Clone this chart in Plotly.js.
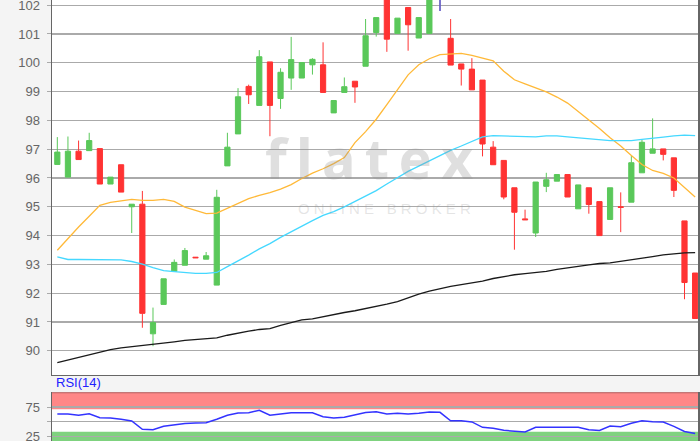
<!DOCTYPE html>
<html>
<head>
<meta charset="utf-8">
<script src="https://cdn.plot.ly/plotly-3.0.1.min.js"></script>
<style>html,body{margin:0;padding:0;background:#f4f4f4;}#chart{width:700px;height:441px;}</style>
</head>
<body>
<div id="chart"></div>
<script>
// Candle index (trading days)
const dayIndex = [0,1,2,3,4,5,6,7,8,9,10,11,12,13,14,15,16,17,18,19,20,21,22,23,24,25,26,27,28,29,30,31,32,33,34,35,36,37,38,39,40,41,42,43,44,45,46,47,48,49,50,51,52,53,54,55,56,57,58,59,60];

const openVals  = [96.47,96.03,96.93,96.95,97.02,95.79,96.46,95.00,95.09,90.59,91.61,92.76,92.97,93.25,93.18,92.28,96.42,97.53,99.18,98.52,100.03,98.76,99.47,99.47,99.93,99.93,98.26,98.97,99.36,99.88,101.05,102.60,101.02,101.92,100.86,101.02,102.60,100.85,99.96,99.78,99.40,97.07,96.61,95.66,94.58,94.09,95.71,95.89,96.12,94.93,95.66,95.18,94.56,95.00,95.16,96.18,96.86,97.01,96.70,94.51,92.70];
const highVals  = [97.42,97.44,97.30,97.57,97.02,96.03,96.46,95.09,95.55,91.50,92.50,93.17,93.57,93.25,93.43,95.59,97.57,99.12,99.24,100.44,100.03,99.81,100.90,100.01,100.16,100.71,98.69,99.49,99.36,101.52,101.57,102.90,101.55,101.92,101.57,102.60,103.00,101.52,99.96,100.16,99.40,97.28,96.61,95.66,94.90,95.86,96.18,96.12,96.12,95.76,95.66,95.18,95.66,95.50,96.78,97.32,98.07,97.01,96.70,94.51,92.70];
const lowVals   = [96.47,96.03,96.64,96.95,95.79,95.79,95.51,94.09,90.80,90.16,91.61,92.76,92.97,93.23,93.18,92.28,96.42,97.53,98.57,98.52,97.45,98.40,99.06,99.47,99.59,98.97,98.26,98.97,98.61,99.88,100.91,100.38,101.02,100.42,100.86,101.02,101.80,99.92,99.21,99.06,96.75,96.46,95.26,93.51,94.55,93.95,95.51,95.89,95.34,94.93,94.76,94.00,94.56,94.12,95.16,96.18,96.86,96.61,95.34,91.79,91.12];
const closeVals = [96.90,96.93,96.64,97.30,95.79,96.03,95.51,95.09,91.30,90.98,92.50,93.07,93.48,93.23,93.30,95.33,97.07,98.82,98.89,100.21,98.52,99.67,100.11,100.01,100.12,98.97,98.69,99.17,99.16,100.94,101.57,100.82,101.55,101.32,101.57,102.40,102.90,99.92,99.78,99.06,97.18,96.46,95.34,94.81,94.55,95.86,95.94,96.12,95.34,95.76,95.08,94.00,95.66,94.98,96.53,97.24,97.01,96.82,95.57,92.37,91.12];

// Marked candle (drawn in violet, mostly above the visible range)
const markIndex = [36];
const markOpen = [102.60], markHigh = [103.00], markLow = [101.80], markClose = [102.90];

// Moving averages
const maShort = [93.49,93.91,94.30,94.67,95.05,95.15,95.21,95.26,95.22,95.22,95.26,95.19,94.99,94.88,94.76,94.78,94.94,95.10,95.28,95.40,95.49,95.61,95.77,95.98,96.17,96.32,96.50,96.71,97.23,97.61,98.04,98.55,99.06,99.58,99.93,100.14,100.28,100.31,100.33,100.26,100.16,100.07,99.71,99.41,99.27,99.12,98.99,98.81,98.60,98.31,98.03,97.72,97.40,97.11,96.78,96.47,96.26,96.16,96.00,95.67,95.34];
const maMid = [93.26,93.17,93.17,93.17,93.17,93.17,93.16,93.10,93.01,92.89,92.78,92.75,92.72,92.69,92.69,92.72,92.92,93.11,93.32,93.54,93.72,93.94,94.14,94.33,94.52,94.70,94.83,95.00,95.19,95.36,95.56,95.79,96.01,96.23,96.41,96.60,96.78,96.96,97.11,97.27,97.43,97.47,97.46,97.44,97.43,97.43,97.46,97.46,97.43,97.40,97.38,97.34,97.30,97.30,97.30,97.34,97.37,97.42,97.46,97.49,97.47];
const maLong = [89.59,89.68,89.78,89.87,89.96,90.04,90.10,90.14,90.17,90.21,90.26,90.31,90.36,90.39,90.42,90.45,90.54,90.62,90.68,90.74,90.77,90.88,90.98,91.07,91.11,91.19,91.25,91.33,91.39,91.46,91.53,91.62,91.71,91.84,91.97,92.07,92.16,92.24,92.30,92.36,92.42,92.51,92.58,92.64,92.68,92.71,92.76,92.83,92.89,92.93,92.98,93.03,93.05,93.10,93.16,93.21,93.27,93.33,93.37,93.40,93.41];

// RSI(14)
const rsiVals = [63.1,63.1,61.2,63.6,56.8,56.4,54.0,51.2,37.0,36.4,42.2,45.0,47.0,47.8,48.3,54.1,61.0,65.0,65.3,69.4,60.9,63.1,65.3,65.3,65.3,58.6,56.3,57.5,61.0,65.5,67.0,63.1,64.6,63.3,64.5,66.4,66.0,51.7,51.7,49.6,40.4,38.8,35.4,34.6,32.5,40.5,40.5,40.5,40.5,40.5,36.4,35.0,42.5,41.5,47.3,51.7,50.0,49.5,42.0,33.5,30.0];

const priceTicks = [90,91,92,93,94,95,96,97,98,99,100,101,102];
const rsiTicks = [25,50,75];
const rsiTickText = ['25','','75'];
const rsiUpper = [71,100];
const rsiLower = [0,33];

const up = '#5ac85a', down = '#ff3333';
const traces = [
  {type:'candlestick', x:dayIndex, open:openVals, high:highVals, low:lowVals, close:closeVals,
   xaxis:'x', yaxis:'y', whiskerwidth:0,
   increasing:{line:{color:up,width:1}, fillcolor:up},
   decreasing:{line:{color:down,width:1}, fillcolor:down},
   hoverinfo:'skip', showlegend:false},
  {type:'candlestick', x:markIndex, open:markOpen, high:markHigh, low:markLow, close:markClose,
   xaxis:'x', yaxis:'y', whiskerwidth:0,
   increasing:{line:{color:'#6a4fd8',width:1.5}, fillcolor:'#6a4fd8'},
   decreasing:{line:{color:'#6a4fd8',width:1.5}, fillcolor:'#6a4fd8'},
   hoverinfo:'skip', showlegend:false},
  {type:'scatter', mode:'lines', x:dayIndex, y:maShort, xaxis:'x', yaxis:'y', line:{color:'#ffb938',width:1.3}, hoverinfo:'skip', showlegend:false},
  {type:'scatter', mode:'lines', x:dayIndex, y:maMid, xaxis:'x', yaxis:'y', line:{color:'#45d8ff',width:1.3}, hoverinfo:'skip', showlegend:false},
  {type:'scatter', mode:'lines', x:dayIndex, y:maLong, xaxis:'x', yaxis:'y', line:{color:'#1a1a1a',width:1.3}, hoverinfo:'skip', showlegend:false},
  {type:'scatter', mode:'lines', x:dayIndex, y:rsiVals, xaxis:'x2', yaxis:'y2', line:{color:'#3333ff',width:1.5}, hoverinfo:'skip', showlegend:false}
];

const tickFont = {family:'Arial, Liberation Sans, sans-serif', size:13, color:'#666666'};
const layout = {
  width:700, height:441,
  margin:{l:52, r:2, t:0, b:0, pad:0},
  paper_bgcolor:'#f4f4f4', plot_bgcolor:'#ffffff',
  showlegend:false,
  xaxis:{domain:[0,1], anchor:'y', range:[-0.5,60.27], showticklabels:false, showgrid:false, zeroline:false,
         showline:true, linecolor:'#666666', linewidth:1.5, ticks:'', rangeslider:{visible:false}},
  yaxis:{domain:[0.1497,1], anchor:'x', range:[89.16,102.18], tickvals:priceTicks, tickfont:tickFont,
         gridcolor:'#aaaaaa', gridwidth:1.3, zeroline:false, showline:true, mirror:true, linecolor:'#666666', linewidth:1.5,
         ticks:'outside', ticklen:4, tickcolor:'#aaaaaa', ticklabelstandoff:4, ticklabeloverflow:'allow'},
  xaxis2:{domain:[0,1], anchor:'y2', matches:'x', showticklabels:false, showgrid:false, zeroline:false, showline:false, ticks:'', rangeslider:{visible:false}},
  yaxis2:{domain:[0,0.1104], anchor:'x2', range:[17.2,100], tickvals:rsiTicks, ticktext:rsiTickText, tickfont:tickFont,
          gridcolor:'#aaaaaa', gridwidth:1.3, zeroline:false, showline:true, mirror:true, linecolor:'#666666', linewidth:1.5,
          ticks:'outside', ticklen:4, tickcolor:'#aaaaaa', ticklabelstandoff:4, ticklabeloverflow:'allow'},
  shapes:[
    {type:'rect', xref:'paper', yref:'y2', x0:0, x1:1, y0:rsiUpper[0], y1:rsiUpper[1], fillcolor:'#ff8787', line:{width:0}, layer:'below'},
    {type:'rect', xref:'paper', yref:'y2', x0:0, x1:1, y0:rsiLower[0], y1:rsiLower[1], fillcolor:'#7fd27f', line:{width:0}, layer:'below'},
    {type:'line', xref:'paper', yref:'y2', x0:0, x1:1, y0:100, y1:100, line:{color:'#b06060', width:2}}
  ],
  annotations:[
    {xref:'paper', yref:'paper', x:0.492, y:(441-197)/441, xanchor:'center', yanchor:'bottom', showarrow:false,
     text:'f\u2009l\u2009a\u2009t\u2009e\u2009x', font:{family:'Noto Sans', size:56, weight:700, color:'rgba(150,150,150,0.30)'}},
    {xref:'paper', yref:'paper', x:0.514, y:(441-198)/441, xanchor:'center', yanchor:'top', showarrow:false,
     text:'O N L I N E &nbsp; B R O K E R', font:{family:'Arial, Liberation Sans, sans-serif', size:15, color:'rgba(150,150,150,0.25)'}},
    {xref:'paper', yref:'paper', x:0.003, y:0.1104, xanchor:'left', yanchor:'bottom', showarrow:false,
     text:'RSI(14)', font:{family:'Arial, Liberation Sans, sans-serif', size:13, color:'#2222ff'}}
  ]
};

Plotly.newPlot('chart', traces, layout, {staticPlot:true, displayModeBar:false});
</script>
</body>
</html>
